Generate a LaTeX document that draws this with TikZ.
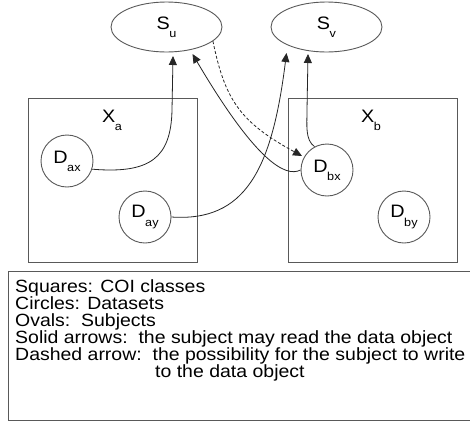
\documentclass[tikz,border=0pt]{standalone}
\usepackage{fontspec}
\setmainfont{Liberation Sans}[FakeStretch=1.1]
\usetikzlibrary{arrows.meta,calc,shapes.geometric}
\newcommand{\lbl}[2]{#1\kern-0.5pt\raisebox{-0.45em}{\fontsize{11.5}{11.5}\selectfont #2}}
\begin{document}
\begin{tikzpicture}[x=1pt,y=-1pt,
  boxline/.style={draw=black!65,line width=0.9pt},
  subj/.style={ellipse,draw=black!65,line width=0.9pt,minimum width=111pt,minimum height=50pt,inner sep=0pt,font=\fontsize{18}{18}\selectfont},
  dset/.style={circle,draw=black!65,line width=0.9pt,minimum size=52pt,inner sep=0pt,font=\fontsize{18}{18}\selectfont},
  cls/.style={font=\fontsize{18}{18}\selectfont},
  rd/.style={draw=black!85,line width=0.8pt,-{Triangle[length=9pt,width=8pt]}},
  wr/.style={rd,dashed,dash pattern=on 3pt off 2pt}]
\useasboundingbox (0,0) rectangle (470,421);
\fill[white] (0,0) rectangle (470,421);
% class boxes
\draw[boxline] (28,98) rectangle (197,262);
\draw[boxline] (288,98) rectangle (457,262);
\node[cls] (Xa) at (112,120) {\lbl{X}{a}};
\node[cls] (Xb) at (371,120) {\lbl{X}{b}};
% subjects
\node[subj] (Su) at (166.5,27) {\lbl{S}{u}};
\node[subj] (Sv) at (326.5,27) {\lbl{S}{v}};
% datasets
\node[dset] (Dax) at (67,161) {\lbl{D}{ax}};
\node[dset] (Day) at (145,217) {\lbl{D}{ay}};
\node[dset] (Dbx) at (327,170) {\lbl{D}{bx}};
\node[dset] (Dby) at (404,217) {\lbl{D}{by}};
% connectors
\draw[rd] (Dax.-18) .. controls (150,174) and (171,158) .. (172,110) -- ($(Su.center)+(6.5,29)$);
\draw[rd] (Dbx.west) .. controls (285,178) and (255,160) .. ($(Su.center)+(26,27)$);
\draw[wr] (Su.-17) .. controls (225,100) and (240,122) .. ($(Dbx.center)+(-25,-14)$);
\draw[rd] (Day.east) .. controls (245,222) and (272,170) .. ($(Sv.center)+(-40,26)$);
\draw[rd] (Dbx.118) .. controls (305,140) and (307,125) .. (307,110) -- ($(Sv.center)+(-18.5,27)$);
% legend
\draw[boxline] (472,271) -- (8,271) -- (8,420) -- (472,420);
\node[anchor=north west,align=left,inner sep=0pt,font=\fontsize{17.7}{17}\selectfont] (legend) at (15,279) {%
Squares: COI classes\\
Circles: Datasets\\
Ovals:\ \ Subjects\\
Solid arrows:\ \ the subject may read the data object\\
Dashed arrow:\ \ the possibility for the subject to write\\
\hspace*{140pt}to the data object};
\end{tikzpicture}
\end{document}
